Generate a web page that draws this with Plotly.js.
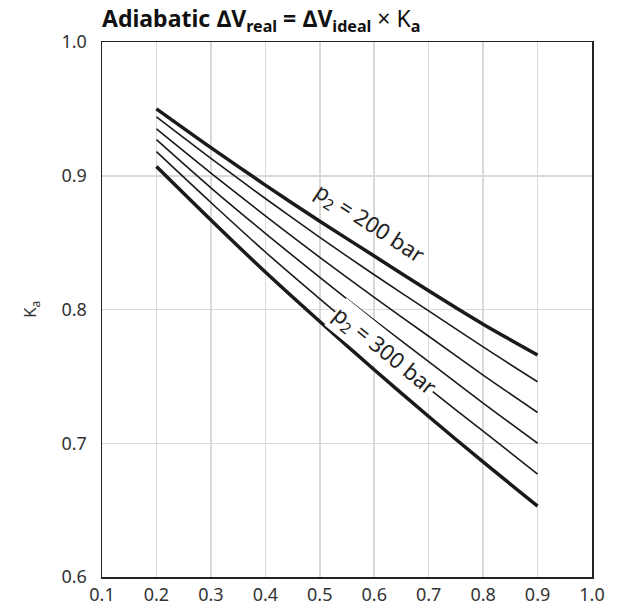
<!DOCTYPE html>
<html>
<head>
<meta charset="utf-8">
<script src="https://cdn.plot.ly/plotly-3.0.1.min.js"></script>
<style>html,body{margin:0;padding:0;background:#fff;}#chart{width:624px;height:607px;}</style>
</head>
<body>
<div id="chart"></div>
<script>
const xValues = [0.2, 0.3, 0.4, 0.5, 0.6, 0.7, 0.8, 0.9];
const ka200 = [0.950, 0.921, 0.893, 0.866, 0.840, 0.814, 0.789, 0.766];
const kaLine2 = [0.944, 0.913, 0.883, 0.854, 0.826, 0.799, 0.772, 0.746];
const kaLine3 = [0.935, 0.902, 0.870, 0.839, 0.809, 0.780, 0.751, 0.723];
const kaLine4 = [0.927, 0.891, 0.857, 0.824, 0.792, 0.761, 0.730, 0.700];
const kaLine5 = [0.918, 0.880, 0.843, 0.808, 0.774, 0.741, 0.709, 0.677];
const kaBottom = [0.907, 0.867, 0.828, 0.791, 0.755, 0.720, 0.686, 0.653];
const xTicks = [0.1, 0.2, 0.3, 0.4, 0.5, 0.6, 0.7, 0.8, 0.9, 1.0];
const yTicks = [0.6, 0.7, 0.8, 0.9, 1.0];

const FONT = '"Noto Sans", "Open Sans", sans-serif';
const series = [
  {y: ka200, w: 3.5},
  {y: kaLine2, w: 1.6},
  {y: kaLine3, w: 1.6},
  {y: kaLine4, w: 1.6},
  {y: kaLine5, w: 1.6},
  {y: kaBottom, w: 3.5}
];
const traces = series.map(s => ({
  x: xValues, y: s.y, type: 'scatter', mode: 'lines',
  line: {color: '#1a1a1a', width: s.w, shape: 'spline', smoothing: 0.8},
  hoverinfo: 'skip', showlegend: false
}));

const layout = {
  width: 624, height: 607,
  margin: {l: 102, r: 32, t: 42, b: 30},
  paper_bgcolor: '#fff', plot_bgcolor: '#fff',
  font: {family: FONT, color: '#333', size: 18},
  title: {
    text: '<b>Adiabatic ∆V<sub>real</sub> = ∆V<sub>ideal</sub></b> × K<sub><b>a</b></sub>',
    font: {family: FONT, size: 23, color: '#111'},
    xref: 'paper', x: 0, xanchor: 'left',
    yref: 'container', y: 0.968, yanchor: 'middle'
  },
  xaxis: {
    range: [0.1, 1.0], tickvals: xTicks, ticktext: xTicks.map(v => v.toFixed(1)),
    showgrid: true, gridcolor: '#d9d9d9', gridwidth: 1.5,
    showline: true, mirror: true, linecolor: '#222', linewidth: 1.5,
    zeroline: false, ticks: '', ticklabelstandoff: 1,
    tickfont: {family: FONT, size: 18, color: '#333'}, fixedrange: true
  },
  yaxis: {
    range: [0.6, 1.0], tickvals: yTicks, ticktext: yTicks.map(v => v.toFixed(1)),
    showgrid: true, gridcolor: '#d9d9d9', gridwidth: 1.5,
    showline: true, mirror: true, linecolor: '#222', linewidth: 1.5,
    zeroline: false, ticks: '', ticklabelstandoff: 10,
    tickfont: {family: FONT, size: 18, color: '#333'},
    title: {text: 'K<sub>a</sub>', font: {family: FONT, size: 17, color: '#333'}, standoff: 20},
    fixedrange: true
  },
  annotations: [
    {x: 0.592, y: 0.864, xref: 'x', yref: 'y', text: 'p<sub>2</sub> = 200 bar',
     showarrow: false, textangle: 33, font: {family: FONT, size: 22, color: '#222'}},
    {x: 0.618, y: 0.769, xref: 'x', yref: 'y', text: 'p<sub>2</sub> = 300 bar',
     showarrow: false, textangle: 39, bgcolor: '#fff', borderpad: 0,
     font: {family: FONT, size: 22, color: '#222'}}
  ]
};

Plotly.newPlot('chart', traces, layout, {displayModeBar: false, staticPlot: true});
</script>
</body>
</html>
